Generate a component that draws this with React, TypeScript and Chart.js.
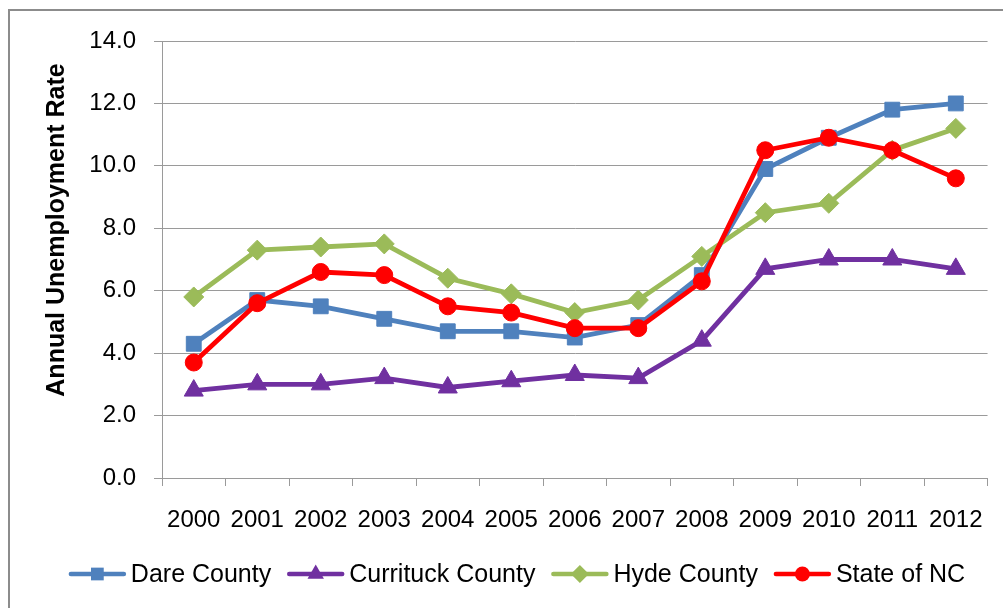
import React, { useEffect, useRef } from 'react';
import { Chart, registerables } from 'chart.js';

Chart.register(...registerables);

const years = ['2000', '2001', '2002', '2003', '2004', '2005', '2006', '2007', '2008', '2009', '2010', '2011', '2012'];
const dareCounty = [4.3, 5.7, 5.5, 5.1, 4.7, 4.7, 4.5, 4.9, 6.5, 9.9, 10.9, 11.8, 12.0];
const currituckCounty = [2.8, 3.0, 3.0, 3.2, 2.9, 3.1, 3.3, 3.2, 4.4, 6.7, 7.0, 7.0, 6.7];
const hydeCounty = [5.8, 7.3, 7.4, 7.5, 6.4, 5.9, 5.3, 5.7, 7.1, 8.5, 8.8, 10.5, 11.2];
const stateOfNC = [3.7, 5.6, 6.6, 6.5, 5.5, 5.3, 4.8, 4.8, 6.3, 10.5, 10.9, 10.5, 9.6];
const yTickValues = [0, 2, 4, 6, 8, 10, 12, 14];
const seriesNames = ['Dare County', 'Currituck County', 'Hyde County', 'State of NC'];
const yAxisTitle = 'Annual Unemployment Rate';

const FONT = 'Liberation Sans';
const GRID = '#9a9a9a';

function drawMarker(ctx: CanvasRenderingContext2D, style: string, x: number, y: number, r: number, color: string) {
  ctx.fillStyle = color;
  ctx.beginPath();
  if (style === 'rect') {
    const s = r * Math.SQRT1_2;
    ctx.rect(x - s, y - s, 2 * s, 2 * s);
  } else if (style === 'triangle') {
    ctx.moveTo(x, y - r);
    ctx.lineTo(x + r * 0.866, y + r * 0.5);
    ctx.lineTo(x - r * 0.866, y + r * 0.5);
    ctx.closePath();
  } else if (style === 'rectRot') {
    ctx.moveTo(x - r, y);
    ctx.lineTo(x, y - r);
    ctx.lineTo(x + r, y);
    ctx.lineTo(x, y + r);
    ctx.closePath();
  } else {
    ctx.arc(x, y, r, 0, Math.PI * 2);
  }
  ctx.fill();
}

export default function App() {
  const ref = useRef<HTMLCanvasElement>(null);

  useEffect(() => {
    const canvas = ref.current!;
    const colors = ['#4F81BD', '#7030A0', '#9BBB59', '#FF0000'];
    const styles = ['rect', 'triangle', 'rectRot', 'circle'];
    const radii = [10.5, 11, 10, 8.5];
    const legendRadii = [9, 9.5, 9, 7.5];
    const values = [dareCounty, currituckCounty, hydeCounty, stateOfNC];
    const orders = [3, 2, 1, 0];

    const yTitlePlugin = {
      id: 'yTitle',
      afterDraw(chart: any) {
        const { ctx } = chart;
        ctx.save();
        ctx.translate(57, 230);
        ctx.rotate(-Math.PI / 2);
        ctx.font = `bold 25px "${FONT}"`;
        ctx.fillStyle = '#000';
        ctx.textAlign = 'center';
        ctx.textBaseline = 'middle';
        ctx.fillText(yAxisTitle, 0, 0);
        ctx.restore();
      },
    };

    const legendPlugin = {
      id: 'lineLegend',
      afterDraw(chart: any) {
        const { ctx } = chart;
        const lineLen = 57;
        const textGap = 5;
        const itemGap = 16;
        const cy = 574;
        const centerX = 517;
        ctx.save();
        ctx.font = `25px "${FONT}"`;
        const widths = seriesNames.map((n) => ctx.measureText(n).width);
        const total = widths.reduce((a, w) => a + lineLen + textGap + w, 0) + itemGap * (seriesNames.length - 1);
        let x = centerX - total / 2;
        seriesNames.forEach((n, i) => {
          ctx.strokeStyle = colors[i];
          ctx.lineWidth = 4.5;
          ctx.lineCap = 'round';
          ctx.beginPath();
          ctx.moveTo(x + 2, cy);
          ctx.lineTo(x + lineLen - 2, cy);
          ctx.stroke();
          drawMarker(ctx, styles[i], x + lineLen / 2, cy, legendRadii[i], colors[i]);
          ctx.fillStyle = '#000';
          ctx.textAlign = 'left';
          ctx.textBaseline = 'middle';
          ctx.fillText(n, x + lineLen + textGap, cy + 1);
          x += lineLen + textGap + widths[i] + itemGap;
        });
        ctx.restore();
      },
    };

    const chart = new Chart(canvas, {
      type: 'line',
      data: {
        labels: years,
        datasets: values.map((v, i) => ({
          label: seriesNames[i],
          data: v,
          borderColor: colors[i],
          backgroundColor: colors[i],
          pointBackgroundColor: colors[i],
          pointBorderColor: colors[i],
          pointBorderWidth: 1,
          pointStyle: styles[i] as any,
          pointRadius: radii[i],
          borderWidth: 4.8,
          tension: 0,
          order: orders[i],
        })),
      },
      options: {
        animation: false,
        responsive: false,
        maintainAspectRatio: false,
        layout: { padding: { left: 0, right: 13, top: 41, bottom: 70 } },
        scales: {
          x: {
            offset: true,
            grid: { offset: true, drawOnChartArea: false, drawTicks: true, tickLength: 8, color: GRID, lineWidth: 1 },
            border: { color: GRID, width: 1 },
            ticks: { font: { family: FONT, size: 24 }, color: '#000', padding: 20, maxRotation: 0, autoSkip: false },
            afterFit: (s: any) => { s.height = 60; },
          },
          y: {
            min: 0,
            max: 14,
            afterBuildTicks: (s: any) => { s.ticks = yTickValues.map((v) => ({ value: v })); },
            ticks: {
              font: { family: FONT, size: 24 },
              color: '#000',
              padding: 18,
              callback: (v: any) => Number(v).toFixed(1),
            },
            grid: { color: GRID, tickLength: 8, lineWidth: 1 },
            border: { color: GRID, width: 1 },
            afterFit: (s: any) => { s.width = 162; },
          },
        },
        plugins: {
          tooltip: { enabled: false },
          legend: { display: false },
        },
      } as any,
      plugins: [yTitlePlugin, legendPlugin],
    });
    return () => chart.destroy();
  }, []);

  return (
    <div style={{ position: 'fixed', left: 0, top: 0, width: 1003, height: 608, background: '#fff', overflow: 'hidden' }}>
      <div
        style={{
          position: 'absolute',
          left: 8,
          top: 9,
          width: 1100,
          height: 700,
          borderLeft: '2px solid #8c8c8c',
          borderTop: '2px solid #8c8c8c',
        }}
      />
      <canvas ref={ref} width={1003} height={608} style={{ position: 'absolute', left: 0, top: 0, width: 1003, height: 608 }} />
    </div>
  );
}
